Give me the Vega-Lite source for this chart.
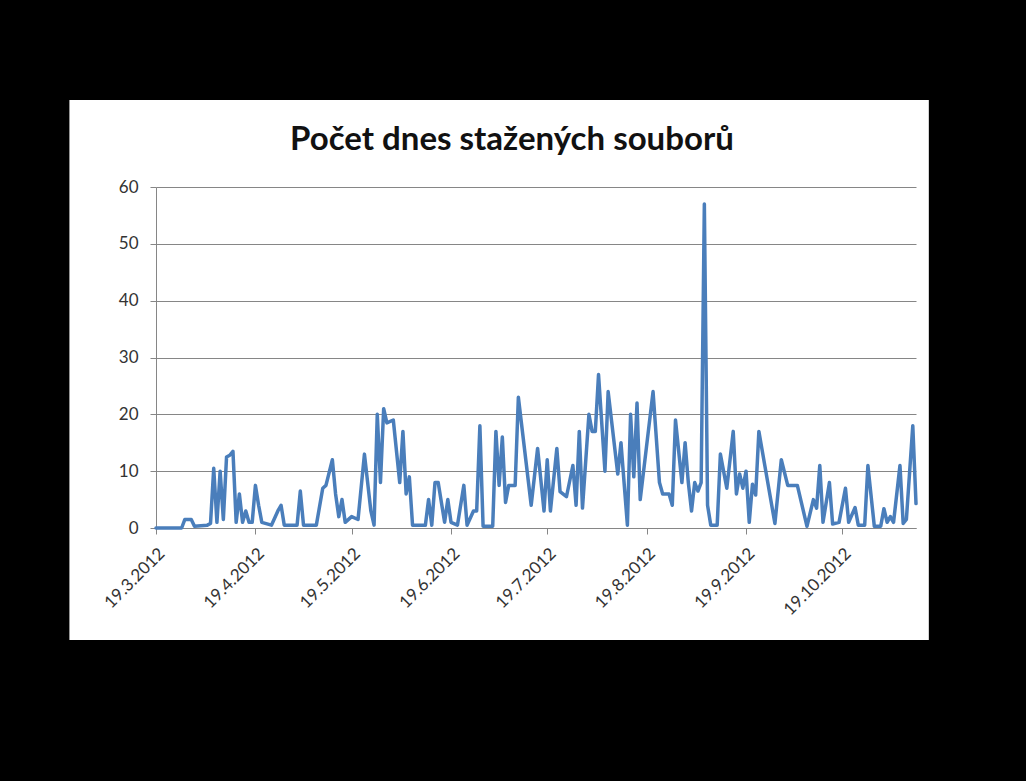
{
  "$schema": "https://vega.github.io/schema/vega-lite/v6.json",
  "width": 760,
  "height": 341,
  "autosize": {"type": "none"},
  "padding": {"left": 156, "top": 187, "right": 110, "bottom": 253},
  "background": "white",
  "config": {"view": {"stroke": null}, "font": "Lato"},
  "layer": [
    {
      "data": {"values": [
        {"date": "2012/03/19", "value": 0}, {"date": "2012/03/27", "value": 0}, {"date": "2012/03/28", "value": 1.5}, {"date": "2012/03/30", "value": 1.5}, {"date": "2012/03/31", "value": 0.3},
        {"date": "2012/04/04", "value": 0.5}, {"date": "2012/04/05", "value": 0.8}, {"date": "2012/04/06", "value": 10.5}, {"date": "2012/04/07", "value": 1}, {"date": "2012/04/08", "value": 10},
        {"date": "2012/04/09", "value": 1.5}, {"date": "2012/04/10", "value": 12.5}, {"date": "2012/04/11", "value": 12.8}, {"date": "2012/04/12", "value": 13.5}, {"date": "2012/04/13", "value": 1},
        {"date": "2012/04/14", "value": 6}, {"date": "2012/04/15", "value": 1}, {"date": "2012/04/16", "value": 3}, {"date": "2012/04/17", "value": 1}, {"date": "2012/04/18", "value": 1},
        {"date": "2012/04/19", "value": 7.5}, {"date": "2012/04/20", "value": 4}, {"date": "2012/04/21", "value": 1}, {"date": "2012/04/24", "value": 0.5}, {"date": "2012/04/26", "value": 3},
        {"date": "2012/04/27", "value": 4}, {"date": "2012/04/28", "value": 0.5}, {"date": "2012/05/02", "value": 0.5}, {"date": "2012/05/03", "value": 6.5}, {"date": "2012/05/04", "value": 0.5},
        {"date": "2012/05/08", "value": 0.5}, {"date": "2012/05/10", "value": 7}, {"date": "2012/05/11", "value": 7.5}, {"date": "2012/05/13", "value": 12}, {"date": "2012/05/14", "value": 6},
        {"date": "2012/05/15", "value": 2}, {"date": "2012/05/16", "value": 5}, {"date": "2012/05/17", "value": 1}, {"date": "2012/05/19", "value": 2}, {"date": "2012/05/21", "value": 1.5},
        {"date": "2012/05/23", "value": 13}, {"date": "2012/05/25", "value": 3}, {"date": "2012/05/26", "value": 0.5}, {"date": "2012/05/27", "value": 20}, {"date": "2012/05/28", "value": 8},
        {"date": "2012/05/29", "value": 21}, {"date": "2012/05/30", "value": 18.5}, {"date": "2012/06/01", "value": 19}, {"date": "2012/06/03", "value": 8}, {"date": "2012/06/04", "value": 17},
        {"date": "2012/06/05", "value": 6}, {"date": "2012/06/06", "value": 9}, {"date": "2012/06/07", "value": 0.5}, {"date": "2012/06/11", "value": 0.5}, {"date": "2012/06/12", "value": 5},
        {"date": "2012/06/13", "value": 0.5}, {"date": "2012/06/14", "value": 8}, {"date": "2012/06/15", "value": 8}, {"date": "2012/06/17", "value": 1}, {"date": "2012/06/18", "value": 5},
        {"date": "2012/06/19", "value": 1}, {"date": "2012/06/21", "value": 0.5}, {"date": "2012/06/23", "value": 7.5}, {"date": "2012/06/24", "value": 0.5}, {"date": "2012/06/26", "value": 3},
        {"date": "2012/06/27", "value": 3}, {"date": "2012/06/28", "value": 18}, {"date": "2012/06/29", "value": 0.3}, {"date": "2012/07/02", "value": 0.3}, {"date": "2012/07/03", "value": 17},
        {"date": "2012/07/04", "value": 7.5}, {"date": "2012/07/05", "value": 16}, {"date": "2012/07/06", "value": 4.5}, {"date": "2012/07/07", "value": 7.5}, {"date": "2012/07/09", "value": 7.5},
        {"date": "2012/07/10", "value": 23}, {"date": "2012/07/14", "value": 4}, {"date": "2012/07/16", "value": 14}, {"date": "2012/07/18", "value": 3}, {"date": "2012/07/19", "value": 12},
        {"date": "2012/07/20", "value": 3}, {"date": "2012/07/22", "value": 14}, {"date": "2012/07/23", "value": 6.4}, {"date": "2012/07/25", "value": 5.5}, {"date": "2012/07/27", "value": 11},
        {"date": "2012/07/28", "value": 4}, {"date": "2012/07/29", "value": 17}, {"date": "2012/07/30", "value": 3.5}, {"date": "2012/08/01", "value": 20}, {"date": "2012/08/02", "value": 17},
        {"date": "2012/08/03", "value": 17}, {"date": "2012/08/04", "value": 27}, {"date": "2012/08/06", "value": 10}, {"date": "2012/08/07", "value": 24}, {"date": "2012/08/10", "value": 9.5},
        {"date": "2012/08/11", "value": 15}, {"date": "2012/08/13", "value": 0.5}, {"date": "2012/08/14", "value": 20}, {"date": "2012/08/15", "value": 9}, {"date": "2012/08/16", "value": 22},
        {"date": "2012/08/17", "value": 5}, {"date": "2012/08/21", "value": 24}, {"date": "2012/08/23", "value": 8}, {"date": "2012/08/24", "value": 6}, {"date": "2012/08/26", "value": 6},
        {"date": "2012/08/27", "value": 4}, {"date": "2012/08/28", "value": 19}, {"date": "2012/08/30", "value": 8}, {"date": "2012/08/31", "value": 15}, {"date": "2012/09/01", "value": 8},
        {"date": "2012/09/02", "value": 3}, {"date": "2012/09/03", "value": 8}, {"date": "2012/09/04", "value": 6.5}, {"date": "2012/09/05", "value": 8}, {"date": "2012/09/06", "value": 57},
        {"date": "2012/09/07", "value": 4}, {"date": "2012/09/08", "value": 0.5}, {"date": "2012/09/10", "value": 0.5}, {"date": "2012/09/11", "value": 13}, {"date": "2012/09/13", "value": 7},
        {"date": "2012/09/15", "value": 17}, {"date": "2012/09/16", "value": 6}, {"date": "2012/09/17", "value": 9.5}, {"date": "2012/09/18", "value": 7}, {"date": "2012/09/19", "value": 10},
        {"date": "2012/09/20", "value": 1}, {"date": "2012/09/21", "value": 7.7}, {"date": "2012/09/22", "value": 5.8}, {"date": "2012/09/23", "value": 17}, {"date": "2012/09/28", "value": 0.8},
        {"date": "2012/09/30", "value": 12}, {"date": "2012/10/02", "value": 7.5}, {"date": "2012/10/05", "value": 7.5}, {"date": "2012/10/08", "value": 0.3}, {"date": "2012/10/10", "value": 5},
        {"date": "2012/10/11", "value": 3.5}, {"date": "2012/10/12", "value": 11}, {"date": "2012/10/13", "value": 1}, {"date": "2012/10/15", "value": 8}, {"date": "2012/10/16", "value": 0.7},
        {"date": "2012/10/18", "value": 1}, {"date": "2012/10/20", "value": 7}, {"date": "2012/10/21", "value": 1}, {"date": "2012/10/23", "value": 3.6}, {"date": "2012/10/24", "value": 0.5},
        {"date": "2012/10/26", "value": 0.5}, {"date": "2012/10/27", "value": 11}, {"date": "2012/10/29", "value": 0.3}, {"date": "2012/10/31", "value": 0.3}, {"date": "2012/11/01", "value": 3.4},
        {"date": "2012/11/02", "value": 1}, {"date": "2012/11/03", "value": 2}, {"date": "2012/11/04", "value": 1}, {"date": "2012/11/06", "value": 11}, {"date": "2012/11/07", "value": 0.8},
        {"date": "2012/11/08", "value": 1.5}, {"date": "2012/11/10", "value": 18}, {"date": "2012/11/11", "value": 4.3}
      ]},
      "mark": {"type": "line", "color": "#4A7EBB", "strokeWidth": 3.5, "strokeJoin": "round", "strokeCap": "round"},
      "encoding": {
        "x": {"field": "date", "type": "temporal",
          "scale": {"domain": [{"year": 2012, "month": 3, "date": 19}, {"year": 2012, "month": 11, "date": 11}], "nice": false},
          "axis": {"title": null, "grid": false,
            "values": [{"year": 2012, "month": 3, "date": 19}, {"year": 2012, "month": 4, "date": 19}, {"year": 2012, "month": 5, "date": 19}, {"year": 2012, "month": 6, "date": 19}, {"year": 2012, "month": 7, "date": 19}, {"year": 2012, "month": 8, "date": 19}, {"year": 2012, "month": 9, "date": 19}, {"year": 2012, "month": 10, "date": 19}],
            "format": "%-d.%-m.%Y", "labelAngle": -45, "labelFont": "Lato", "labelFontSize": 17, "labelColor": "#333333",
            "labelPadding": 11, "labelOverlap": false, "labelFlush": false, "tickSize": 6, "tickColor": "#868686", "domainColor": "#868686", "domainWidth": 1}},
        "y": {"field": "value", "type": "quantitative",
          "scale": {"domain": [0, 60], "nice": false},
          "axis": {"title": null, "values": [0, 10, 20, 30, 40, 50, 60], "grid": true, "gridColor": "#868686", "gridWidth": 1,
            "domain": true, "domainColor": "#868686", "tickColor": "#868686", "tickSize": 6,
            "labelFont": "Lato", "labelFontSize": 17, "labelColor": "#333333", "labelPadding": 12}}
      }
    },
    {
      "data": {"values": [{}]},
      "mark": {"type": "rect", "color": "black", "clip": false},
      "encoding": {
        "x": {"datum": {"year": 2011, "month": 10, "date": 1}, "type": "temporal"},
        "x2": {"datum": {"year": 2012, "month": 2, "date": 21}},
        "y": {"datum": -300, "type": "quantitative"},
        "y2": {"datum": 300}
      }
    },
    {
      "data": {"values": [{}]},
      "mark": {"type": "rect", "color": "black", "clip": false},
      "encoding": {
        "x": {"datum": {"year": 2012, "month": 11, "date": 15}, "type": "temporal"},
        "x2": {"datum": {"year": 2013, "month": 3, "date": 1}},
        "y": {"datum": -300, "type": "quantitative"},
        "y2": {"datum": 300}
      }
    },
    {
      "data": {"values": [{}]},
      "mark": {"type": "rect", "color": "black", "clip": false},
      "encoding": {
        "x": {"datum": {"year": 2011, "month": 10, "date": 1}, "type": "temporal"},
        "x2": {"datum": {"year": 2013, "month": 3, "date": 1}},
        "y": {"datum": 75.3, "type": "quantitative"},
        "y2": {"datum": 300}
      }
    },
    {
      "data": {"values": [{}]},
      "mark": {"type": "rect", "color": "black", "clip": false},
      "encoding": {
        "x": {"datum": {"year": 2011, "month": 10, "date": 1}, "type": "temporal"},
        "x2": {"datum": {"year": 2013, "month": 3, "date": 1}},
        "y": {"datum": -300, "type": "quantitative"},
        "y2": {"datum": -19.7}
      }
    },
    {
      "data": {"values": [{}]},
      "mark": {"type": "text", "font": "Lato", "fontSize": 33, "fontWeight": "bold", "color": "#111111", "align": "center", "baseline": "middle", "clip": false},
      "encoding": {
        "x": {"datum": {"year": 2012, "month": 7, "date": 8}, "type": "temporal"},
        "y": {"datum": 68.3, "type": "quantitative"},
        "text": {"value": "Počet dnes stažených souborů"}
      }
    }
  ]
}
